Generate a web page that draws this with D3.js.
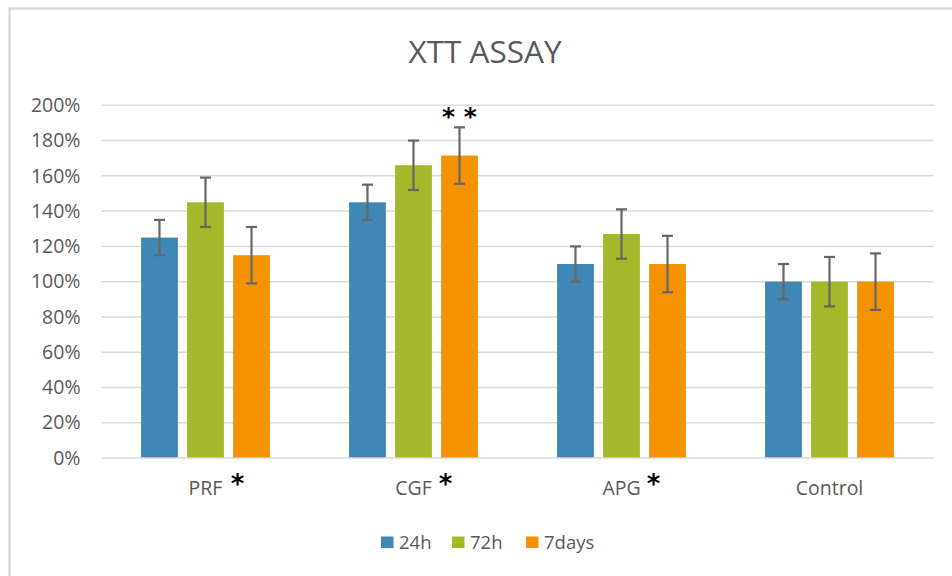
<!DOCTYPE html>
<html><head><meta charset="utf-8">
<script src="https://cdn.jsdelivr.net/npm/d3@7"></script>
<style>body{margin:0;background:#fff}svg{display:block}</style>
</head><body>
<svg id="c" width="952" height="576"></svg>
<script>
const categories = ["PRF", "CGF", "APG", "Control"];
const seriesNames = ["24h", "72h", "7days"];
const values24h = [125, 145, 110, 100];
const values72h = [145, 166, 127, 100];
const values7days = [115, 171.5, 110, 100];
const err24h = [10, 10, 10, 10];
const err72h = [14, 14, 14, 14];
const err7days = [16, 16, 16, 16];
const categoryStars = ["*", "*", "*", ""];
const barStars = [{cat: "CGF", series: "7days", mark: "* *"}];
const yTicks = [0, 20, 40, 60, 80, 100, 120, 140, 160, 180, 200];
const colors = ["#3f88b5", "#a5b82a", "#f59200"];

const seriesValues = [values24h, values72h, values7days];
const seriesErr = [err24h, err72h, err7days];
const data = categories.map((c, i) => ({cat: c, bars: seriesNames.map((s, j) => ({series: s, value: seriesValues[j][i], err: seriesErr[j][i], color: colors[j]}))}));

const svg = d3.select("#c");
const font = "'Open Sans', sans-serif";
const pLeft = 101.5, pRight = 933.5, pTop = 105.3, pBottom = 458;

// frame
svg.append("rect").attr("x", 9.5).attr("y", 8.5).attr("width", 960).attr("height", 600)
  .attr("fill", "none").attr("stroke", "#d9d9d9").attr("stroke-width", 2.5);

const x0 = d3.scaleBand().domain(categories).range([pLeft, pRight]).paddingInner(0).paddingOuter(0);
const x1 = d3.scaleBand().domain(seriesNames).range([0, x0.bandwidth()]).paddingInner(0.2).paddingOuter(0.86);
const y = d3.scaleLinear().domain([0, 200]).range([pBottom, pTop]);

// gridlines
svg.append("g").selectAll("line").data(yTicks.filter(t => t > 0)).join("line")
  .attr("x1", pLeft).attr("x2", pRight).attr("y1", d => y(d)).attr("y2", d => y(d))
  .attr("stroke", "#d9d9d9").attr("stroke-width", 1.5);

// y axis labels
const yAxis = d3.axisLeft(y).tickValues(yTicks).tickFormat(d => d + "%").tickSize(0).tickPadding(0);
const ya = svg.append("g").attr("transform", `translate(${pLeft - 21},0)`).call(yAxis);
ya.select(".domain").remove();
ya.selectAll("text").attr("font-family", font).attr("font-size", 19.5).attr("fill", "#595959");

// bars
const g = svg.append("g");
const cg = g.selectAll("g").data(data).join("g").attr("transform", d => `translate(${x0(d.cat)},0)`);
cg.selectAll("rect").data(d => d.bars).join("rect")
  .attr("x", d => x1(d.series)).attr("width", x1.bandwidth())
  .attr("y", d => y(d.value)).attr("height", d => y(0) - y(d.value))
  .attr("fill", d => d.color);

// error bars
const eb = cg.selectAll("g.err").data(d => d.bars).join("g").attr("class", "err");
const cx = d => x1(d.series) + x1.bandwidth() / 2;
eb.append("line").attr("x1", cx).attr("x2", cx)
  .attr("y1", d => y(d.value + d.err)).attr("y2", d => y(d.value - d.err))
  .attr("stroke", "#666").attr("stroke-width", 2.2);
eb.append("line").attr("x1", d => cx(d) - 5.5).attr("x2", d => cx(d) + 5.5)
  .attr("y1", d => y(d.value + d.err)).attr("y2", d => y(d.value + d.err))
  .attr("stroke", "#666").attr("stroke-width", 2.2);
eb.append("line").attr("x1", d => cx(d) - 5.5).attr("x2", d => cx(d) + 5.5)
  .attr("y1", d => y(d.value - d.err)).attr("y2", d => y(d.value - d.err))
  .attr("stroke", "#666").attr("stroke-width", 2.2);

// x axis line
svg.append("line").attr("x1", pLeft).attr("x2", pRight).attr("y1", pBottom).attr("y2", pBottom)
  .attr("stroke", "#d9d9d9").attr("stroke-width", 1.5);

// x labels
const xAxis = d3.axisBottom(x0).tickSize(0).tickPadding(0);
const xa = svg.append("g").attr("transform", `translate(0,${pBottom + 37})`).call(xAxis);
xa.select(".domain").remove();
xa.selectAll("text").attr("font-family", font).attr("font-size", 19.5).attr("fill", "#595959").attr("dy", 0);

// category stars
svg.append("g").selectAll("text").data(categories.map((c, i) => ({cat: c, mark: categoryStars[i]})).filter(d => d.mark))
  .join("text").attr("x", d => x0(d.cat) + x0.bandwidth() / 2 + 32).attr("y", 493)
  .attr("text-anchor", "middle").attr("font-family", "'DejaVu Sans', sans-serif")
  .attr("font-weight", "bold").attr("font-size", 26).attr("fill", "#000").text(d => d.mark);

// bar stars
svg.append("g").selectAll("text").data(barStars).join("text")
  .attr("x", d => x0(d.cat) + x1(d.series) + x1.bandwidth() / 2)
  .attr("y", d => {
    const v = seriesValues[seriesNames.indexOf(d.series)][categories.indexOf(d.cat)];
    const e = seriesErr[seriesNames.indexOf(d.series)][categories.indexOf(d.cat)];
    return y(v + e) - 2;
  })
  .attr("text-anchor", "middle").attr("font-family", "'DejaVu Sans', sans-serif")
  .attr("font-weight", "bold").attr("font-size", 25).attr("fill", "#000").text(d => d.mark);

// title
svg.append("text").attr("x", 485).attr("y", 63).attr("text-anchor", "middle")
  .attr("font-family", font).attr("font-size", 31.5).attr("fill", "#595959").text("XTT ASSAY");

// legend
const legendX = [381, 452, 526];
const lg = svg.append("g").selectAll("g").data(seriesNames).join("g")
  .attr("transform", (d, i) => `translate(${legendX[i]},536.5)`);
lg.append("rect").attr("width", 12.5).attr("height", 11.5).attr("fill", (d, i) => colors[i]);
lg.append("text").attr("x", 18).attr("y", 12).attr("font-family", font).attr("font-size", 18.5)
  .attr("fill", "#595959").text(d => d);
</script>
</body></html>
